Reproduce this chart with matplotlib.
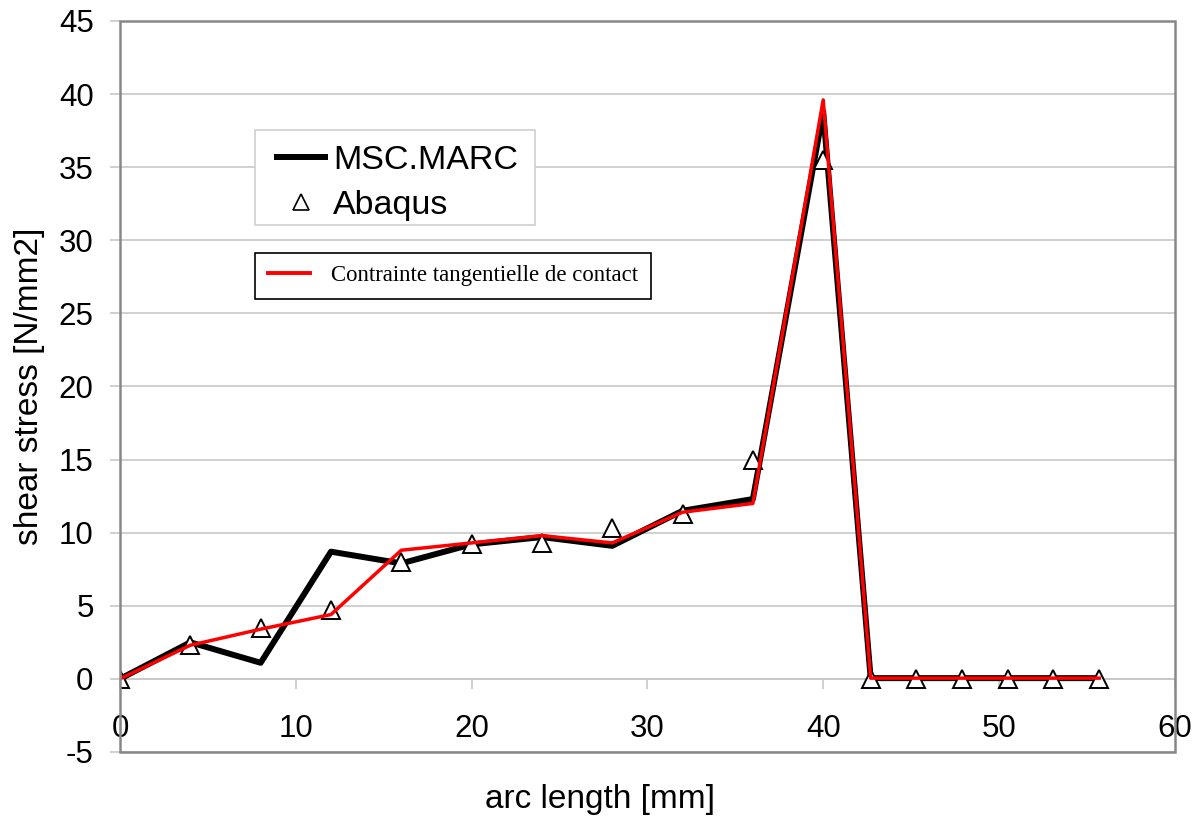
import matplotlib.pyplot as plt
from matplotlib.lines import Line2D
from matplotlib.patches import Rectangle

# data
arc_fe = [0, 4, 8, 12, 16, 20, 24, 28, 32, 36, 40, 42.7, 45.3, 47.9, 50.5, 53.1, 55.7]
marc = [0, 2.5, 1.1, 8.7, 7.9, 9.2, 9.7, 9.1, 11.5, 12.3, 38.8, 0.05, 0.05, 0.05, 0.05, 0.05, 0.05]
abaqus = [0, 2.3, 3.5, 4.7, 8.0, 9.2, 9.3, 10.3, 11.3, 15.0, 35.5, 0, 0, 0, 0, 0, 0]
contact = [0, 2.3, 3.4, 4.4, 8.8, 9.3, 9.8, 9.3, 11.4, 12.0, 39.6, 0.05, 0.05, 0.05, 0.05, 0.05, 0.05]

plt.rcParams['font.family'] = ['Liberation Sans', 'DejaVu Sans']
plt.rcParams['axes.unicode_minus'] = False

fig = plt.figure(figsize=(12, 8.23), dpi=100)
ax = fig.add_axes([0.1, 0.0863, 0.879, 0.8882])

ax.plot(arc_fe, marc, color='black', lw=4.3, zorder=3)
ax.plot(arc_fe, abaqus, ls='none', marker='^', ms=13, mfc='white', mec='black', mew=1.4, zorder=4)
ax.plot(arc_fe, contact, color='#ff0000', lw=2.5, zorder=5)

ax.set_xlim(0, 60)
ax.set_ylim(-5, 45)
ax.set_xticks(range(0, 61, 10))
ax.set_yticks(range(-5, 46, 5))
ax.yaxis.grid(True, color='#c8c8c8', lw=1.2)
ax.set_axisbelow(True)

# x axis crosses at zero, like the original
for s in ['top', 'right', 'left']:
    ax.spines[s].set_visible(False)
ax.spines['bottom'].set_position(('data', 0))
ax.spines['bottom'].set_color('#c8c8c8')
ax.spines['bottom'].set_linewidth(1.2)
ax.tick_params(axis='x', direction='out', length=7, color='#c8c8c8', width=1.2,
               labelsize=22.5, pad=18)
ax.tick_params(axis='y', direction='out', length=7, color='#c8c8c8', width=1.2,
               labelsize=22.5, pad=12)
ax.add_patch(Rectangle((0, 0), 1, 1, transform=ax.transAxes, fill=False,
                       ec='#888888', lw=1.8, clip_on=False, zorder=6))

fig.text(0.5, 0.028, 'arc length [mm]', ha='center', va='center', fontsize=24)
ax.set_ylabel('shear stress [N/mm2]', fontsize=24, labelpad=10)

# first legend: frame drawn by hand so the padding matches
ax.add_patch(Rectangle((0.128, 0.721), 0.2654, 0.130, transform=ax.transAxes,
                       fc='white', ec='#d0d0d0', lw=1.2, zorder=7))
h1 = [Line2D([], [], color='black', lw=4.3),
      Line2D([], [], ls='none', marker='^', ms=11, mfc='white', mec='black', mew=1.2)]
leg1 = ax.legend(h1, ['MSC.MARC', 'Abaqus'], loc='upper left',
                 bbox_to_anchor=(0.1488, 0.830), fontsize=24.5, frameon=False,
                 handlelength=1.4, handletextpad=0.25, borderpad=0,
                 labelspacing=0.4, borderaxespad=0)
leg1.set_zorder(8)
ax.add_artist(leg1)

h2 = [Line2D([], [], color='#ff0000', lw=2.8)]
leg2 = ax.legend(h2, ['Contrainte tangentielle de contact'], loc='upper left',
                 bbox_to_anchor=(0.128, 0.683), fancybox=False,
                 edgecolor='black', framealpha=1, handlelength=1.85,
                 handletextpad=0.95, borderpad=0.55, borderaxespad=0,
                 prop={'family': 'Liberation Serif', 'size': 16.4})
leg2.get_frame().set_linewidth(1.2)
leg2.set_zorder(8)

fig.savefig('out.png', dpi=100)
